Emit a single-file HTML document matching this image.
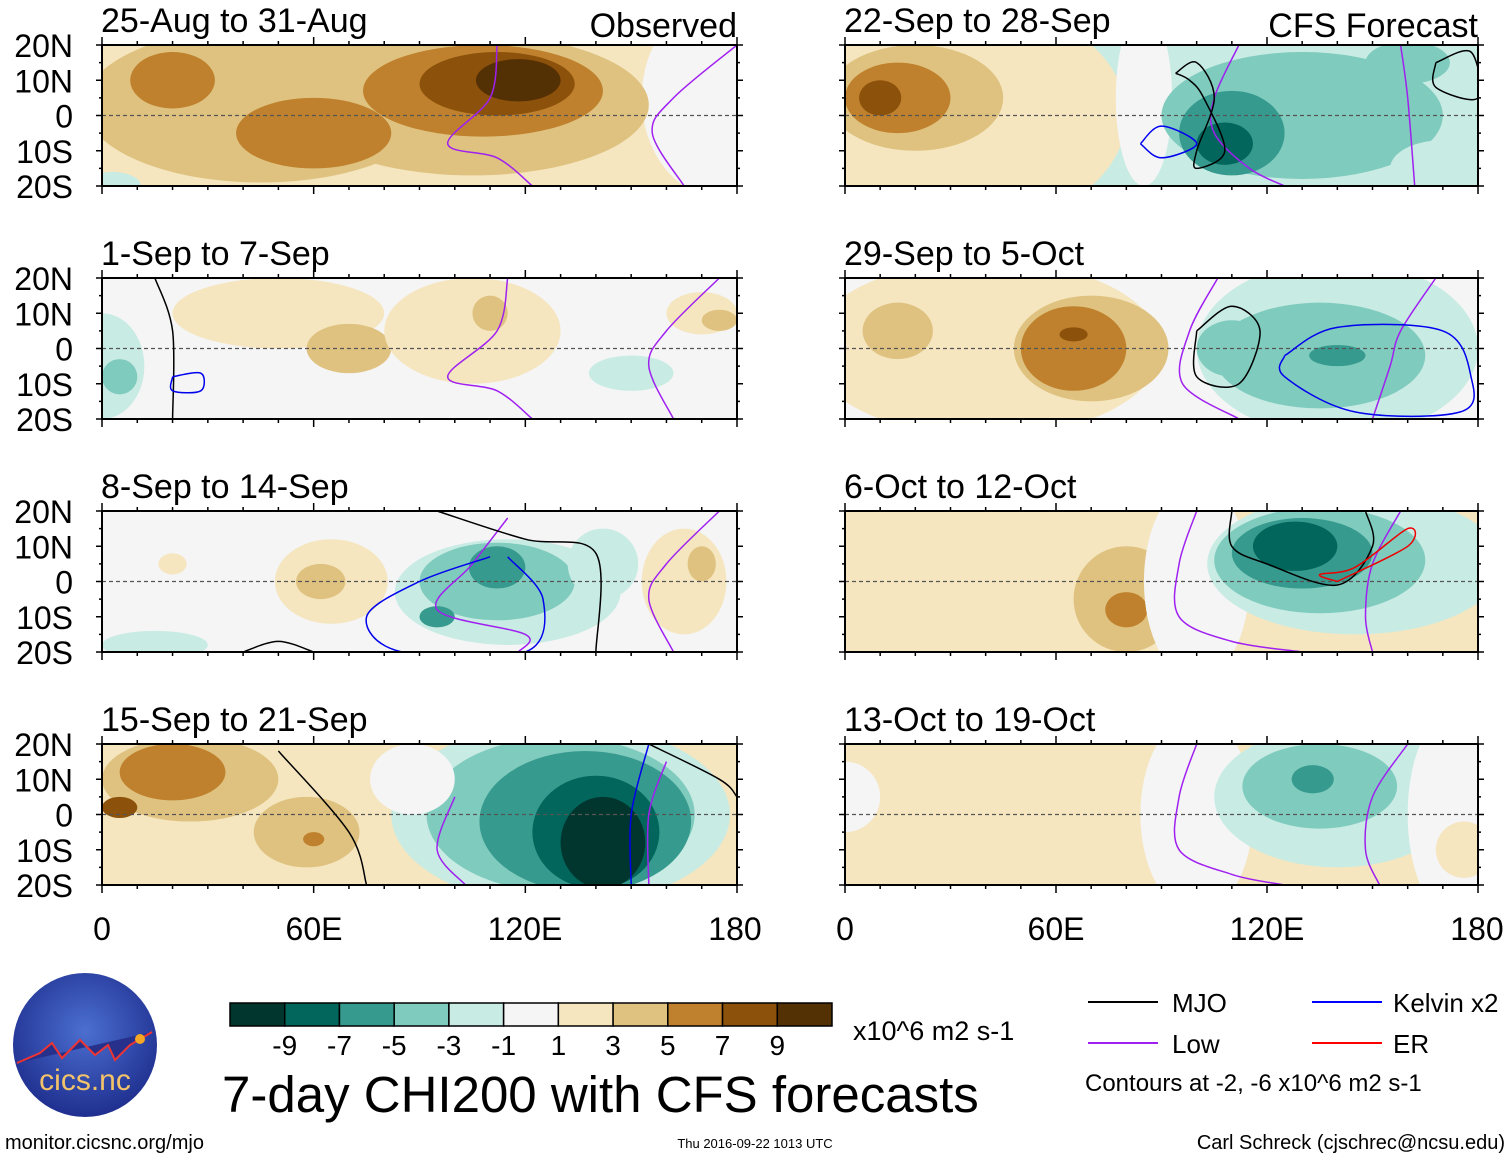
<!DOCTYPE html>
<html><head><meta charset="utf-8"><style>
html,body{margin:0;padding:0;background:#fff}
svg text{font-family:"Liberation Sans",Arial,sans-serif}
</style></head><body>
<svg id="s" width="1510" height="1158" viewBox="0 0 1510 1158" xmlns="http://www.w3.org/2000/svg">
<defs>
<radialGradient id="lg" cx="50%" cy="40%" r="60%"><stop offset="0" stop-color="#4b6fd0"/><stop offset="1" stop-color="#1f2f8f"/></radialGradient>
</defs>
<g id="panels"></g>
<g font-size="32" text-anchor="middle">
<text x="102" y="940">0</text><text x="314" y="940">60E</text><text x="525" y="940">120E</text><text x="735" y="940">180</text>
<text x="845" y="940">0</text><text x="1056" y="940">60E</text><text x="1267" y="940">120E</text><text x="1477" y="940">180</text>
</g>
<g>
<circle cx="85" cy="1045" r="72" fill="url(#lg)"/>
<path d="M17,1063 L40,1053 L52,1043 L62,1058 L80,1040 L95,1055 L108,1045 L115,1060 L130,1045 L152,1032" stroke="#e33" stroke-width="2" fill="#27308a"/>
<circle cx="140" cy="1039" r="5" fill="#f5a623"/>
<text x="85" y="1090" font-size="30" fill="#f3c36a" text-anchor="middle">cics.nc</text>
</g>
<g id="cbar"></g>
<text x="853" y="1040" font-size="27">x10^6 m2 s-1</text>
<text x="222" y="1112" font-size="51">7-day CHI200 with CFS forecasts</text>
<g font-size="26">
<line x1="1088" y1="1002" x2="1158" y2="1002" stroke="#000" stroke-width="2"/><text x="1172" y="1012">MJO</text>
<line x1="1312" y1="1002" x2="1382" y2="1002" stroke="#00f" stroke-width="2"/><text x="1393" y="1012">Kelvin x2</text>
<line x1="1088" y1="1043" x2="1158" y2="1043" stroke="#a020f0" stroke-width="2"/><text x="1172" y="1053">Low</text>
<line x1="1312" y1="1043" x2="1382" y2="1043" stroke="#f00" stroke-width="2"/><text x="1393" y="1053">ER</text>
<text x="1085" y="1091" font-size="24">Contours at -2, -6 x10^6 m2 s-1</text>
</g>
<text x="5" y="1149" font-size="20">monitor.cicsnc.org/mjo</text>
<text x="755" y="1148" font-size="13" text-anchor="middle">Thu 2016-09-22 1013 UTC</text>
<text x="1505" y="1149" font-size="20" text-anchor="end">Carl Schreck (cjschrec@ncsu.edu)</text>
</svg>
<script>
// ---- data ----
const levels=[-9,-7,-5,-3,-1,1,3,5,7,9];
const colors=["#01362e","#02665c","#379a8f","#7fcbbd","#c8ebe4","#f5f5f5","#f5e6c0","#dfc27f","#bf812d","#8c510a","#543005"];
const titles=["25-Aug to 31-Aug","1-Sep to 7-Sep","8-Sep to 14-Sep","15-Sep to 21-Sep","22-Sep to 28-Sep","29-Sep to 5-Oct","6-Oct to 12-Oct","13-Oct to 19-Oct"];
const bgValues=[2,0,0,2,-2,0,2,2];
// blobs: [lon, lat, rxDeg, ryDeg, value]
const blobs0=[[175,5,22,28,0],[3,-20,8,4,-2],[45,3,50,22,4],[105,3,50,20,4],[20,10,12,8,6],[60,-5,22,10,6],[108,7,34,13,6],[112,9,22,9,8],[118,10,12,6,10]];
const blobs1=[[50,10,30,10,2],[70,0,12,7,4],[105,5,25,15,2],[110,10,5,5,4],[0,-5,12,15,-2],[5,-8,5,5,-4],[150,-7,12,5,-2],[170,10,10,6,2],[175,8,5,3,4]];
const blobs2=[[65,0,16,12,2],[62,0,7,5,4],[115,-3,32,15,-2],[112,0,22,11,-4],[112,4,8,6,-6],[95,-10,5,3,-6],[15,-18,15,4,-2],[165,0,12,15,2],[170,5,4,5,4],[20,5,4,3,2],[142,5,10,10,-2]];
const blobs3=[[130,0,48,26,-2],[130,0,38,22,-4],[137,-2,30,20,-6],[140,-5,18,16,-8],[142,-8,12,13,-10],[88,10,12,10,0],[25,10,25,12,4],[20,12,15,8,6],[5,2,5,3,8],[58,-5,15,10,4],[60,-7,3,2,6]];
const blobs4=[[35,0,45,32,2],[85,5,8,25,0],[20,5,25,15,4],[15,5,15,10,6],[10,5,6,5,8],[130,0,40,18,-4],[110,-5,15,12,-6],[108,-8,8,6,-8],[160,15,12,6,-4],[170,-15,15,8,-2]];
const blobs5=[[40,0,50,25,2],[70,0,22,15,4],[65,0,15,12,6],[65,4,4,2,8],[15,5,10,8,4],[140,0,40,25,-2],[135,-2,30,15,-4],[140,-2,8,3,-6],[110,0,10,8,-4]];
const blobs6=[[80,-5,15,15,4],[80,-8,6,5,6],[100,0,15,28,0],[145,5,42,20,-2],[135,6,30,15,-4],[130,8,20,10,-6],[128,10,12,7,-8]];
const blobs7=[[100,0,16,28,0],[0,5,10,10,0],[140,5,35,20,-2],[135,8,22,12,-4],[133,10,6,4,-6],[172,0,12,28,0],[176,-10,8,8,2]];
const allBlobs=[blobs0,blobs1,blobs2,blobs3,blobs4,blobs5,blobs6,blobs7];
// contour lines: [type, [[lon,lat],...]]
const lines=[
 [["low",[[112,20],[110,5],[98,-8],[112,-12],[122,-20]]],["low",[[180,20],[162,5],[156,-5],[165,-20]]]],
 [["low",[[115,20],[112,5],[98,-8],[112,-12],[122,-20]]],["low",[[175,20],[160,5],[155,-5],[162,-20]]],["mjo",[[15,20],[20,5],[20,-20]]],["kelvin",[[20,-8],[28,-7],[28,-12],[20,-12],[20,-8]]]],
 [["low",[[115,18],[105,5],[95,-8],[120,-15],[118,-20]]],["low",[[175,20],[160,5],[155,-5],[162,-20]]],["kelvin",[[110,7],[90,0],[75,-10],[85,-20],[120,-20],[125,-5],[115,7]]],["mjo",[[95,20],[120,12],[140,8],[140,-20]]],["mjo",[[40,-20],[50,-17],[60,-20]]]],
 [["mjo",[[50,18],[70,-5],[75,-20]]],["low",[[100,5],[95,-10],[103,-20]]],["low",[[160,15],[155,0],[155,-20]]],["kelvin",[[155,20],[150,0],[150,-20]]],["mjo",[[155,20],[175,10],[180,5]]]],
 [["low",[[112,20],[105,5],[105,-5],[115,-15],[125,-20]]],["low",[[158,20],[160,5],[162,-20]]],["mjo",[[94,12],[100,15],[105,5],[100,-10],[100,-15],[108,-10],[102,5],[98,10],[94,12]]],["kelvin",[[84,-8],[90,-3],[100,-8],[90,-12],[84,-8]]],["mjo",[[168,15],[178,18],[180,5],[168,8],[168,15]]]],
 [["low",[[106,20],[98,5],[96,-10],[112,-20]]],["low",[[168,20],[158,5],[155,-5],[150,-20]]],["mjo",[[100,5],[110,12],[118,5],[112,-10],[100,-8],[100,5]]],["kelvin",[[125,-2],[140,6],[170,5],[178,-8],[175,-18],[145,-18],[125,-8],[125,-2]]]],
 [["low",[[100,20],[95,5],[95,-10],[110,-17],[130,-20]]],["low",[[158,20],[150,5],[148,-10],[150,-20]]],["mjo",[[110,20],[110,10],[120,5],[140,-1],[150,10],[148,20]]],["er",[[140,0],[160,10],[160,15],[145,4],[135,2],[140,0]]]],
 [["low",[[100,20],[95,5],[95,-10],[110,-17],[125,-20]]],["low",[[160,20],[150,5],[148,-10],[152,-20]]]]
];
const lineColors={low:"#a020f0",mjo:"#000",kelvin:"#0000ee",er:"#ee0000"};
// ---- drawing ----
const NS="http://www.w3.org/2000/svg";
const root=document.getElementById('panels');
function mk(tag,attrs,parent){const e=document.createElementNS(NS,tag);for(const k in attrs)e.setAttribute(k,attrs[k]);parent.appendChild(e);return e;}
function colorOf(v){let i=0;while(i<levels.length&&v>levels[i])i++;return colors[i];}
function smooth(pts){let d='M'+pts[0][0].toFixed(1)+','+pts[0][1].toFixed(1);
  for(let i=0;i<pts.length-1;i++){const p0=pts[Math.max(0,i-1)],p1=pts[i],p2=pts[i+1],p3=pts[Math.min(pts.length-1,i+2)];
    const c1=[p1[0]+(p2[0]-p0[0])/6,p1[1]+(p2[1]-p0[1])/6],c2=[p2[0]-(p3[0]-p1[0])/6,p2[1]-(p3[1]-p1[1])/6];
    d+=' C'+c1.map(v=>v.toFixed(1)).join(',')+' '+c2.map(v=>v.toFixed(1)).join(',')+' '+p2.map(v=>v.toFixed(1)).join(',');}
  return d;}
const X0=[102,845],PW=[635,633],Y0=[45,278,511,744],PH=141;
for(let p=0;p<8;p++){
  const col=p<4?0:1,row=p%4;
  const x0=X0[col],w=PW[col],y0=Y0[row];
  const xs=lon=>x0+lon/180*w, ys=lat=>y0+(20-lat)/40*PH;
  const g=mk('g',{},root);
  
  
  const cp=mk('clipPath',{id:'cp'+p},g);mk('rect',{x:x0,y:y0,width:w,height:PH},cp);
  const inner=mk('g',{'clip-path':'url(#cp'+p+')'},g);
  mk('rect',{x:x0,y:y0,width:w,height:PH,fill:colorOf(bgValues[p])},inner);
  allBlobs[p].forEach(b=>{
    const e=mk('ellipse',{cx:xs(b[0]),cy:ys(b[1]),rx:b[2]/180*w,ry:b[3]/40*PH,fill:colorOf(b[4])},inner);
    
    
  });
  mk('line',{x1:x0,x2:x0+w,y1:ys(0),y2:ys(0),stroke:'#555','stroke-width':1.2,'stroke-dasharray':'4,3'},inner);
  lines[p].forEach(l=>{
    const d=smooth(l[1].map(pt=>[xs(pt[0]),ys(pt[1])]));
    const e=mk('path',{d:d,fill:'none',stroke:lineColors[l[0]],'stroke-width':1.5,'stroke-linejoin':'round'},inner);
    
    
  });
  mk('rect',{x:x0,y:y0,width:w,height:PH,fill:'none',stroke:'#000','stroke-width':2},g);
  for(let lon=0;lon<=180;lon+=10){const big=lon%60==0?8:4;
    mk('line',{x1:xs(lon),x2:xs(lon),y1:y0,y2:y0-big,stroke:'#000','stroke-width':1.5},g);
    mk('line',{x1:xs(lon),x2:xs(lon),y1:y0+PH,y2:y0+PH+big,stroke:'#000','stroke-width':1.5},g);}
  for(let lat=-20;lat<=20;lat+=5){const big=lat%10==0?6:3;
    mk('line',{x1:x0,x2:x0-big,y1:ys(lat),y2:ys(lat),stroke:'#000','stroke-width':1.5},g);
    mk('line',{x1:x0+w,x2:x0+w+big,y1:ys(lat),y2:ys(lat),stroke:'#000','stroke-width':1.5},g);}
  const t=mk('text',{x:x0-1,y:y0-13,'font-size':34},g);t.textContent=titles[p];
  
  
  if(col==0){[['20N',20],['10N',10],['0',0],['10S',-10],['20S',-20]].forEach(a=>{
    const tt=mk('text',{x:73,y:ys(a[1])+12,'font-size':32,'text-anchor':'end'},g);tt.textContent=a[0];});}
}
const o=mk('text',{x:737,y:37,'font-size':34,'text-anchor':'end'},root);o.textContent='Observed';


const f=mk('text',{x:1478,y:37,'font-size':34,'text-anchor':'end'},root);f.textContent='CFS Forecast';


// colorbar
const cb=document.getElementById('cbar');const bw=(832-230)/11;
colors.forEach((c,i)=>{const r=mk('rect',{x:230+i*bw,y:1003,width:bw,height:23,fill:c,stroke:'#000','stroke-width':1.5},cb);
  
  });
levels.forEach((v,i)=>{const t=mk('text',{x:230+(i+1)*bw,y:1055,'font-size':28,'text-anchor':'middle'},cb);t.textContent=v;});
</script>
</body></html>
